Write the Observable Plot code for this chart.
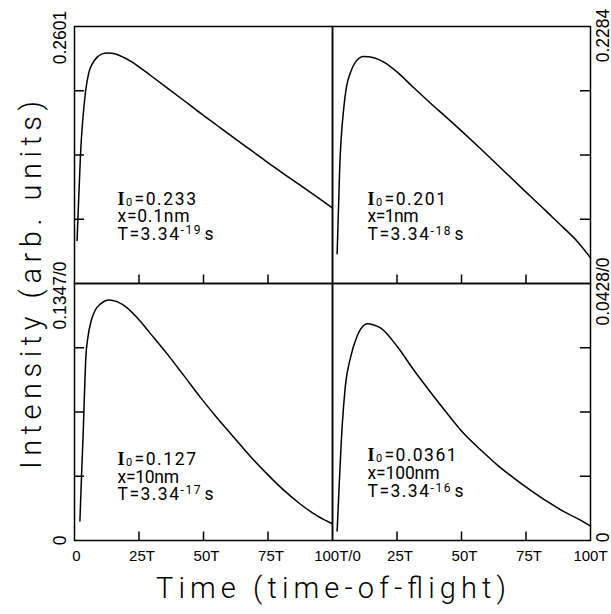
<!DOCTYPE html>
<html><head><meta charset="utf-8">
<script src="https://cdn.jsdelivr.net/npm/d3@7"></script>
<script src="https://cdn.jsdelivr.net/npm/@observablehq/plot@0.6"></script>
<style>
html,body{margin:0;padding:0;background:#fff;}
#chart{position:relative;width:611px;height:614px;overflow:hidden;background:#fff;}
#chart .panel{position:absolute;}
#chart svg{overflow:visible;display:block;}
</style></head><body><div id="chart"></div>
<script>
// ---------- data ----------
const yMax = [0.2601, 0.2284, 0.1347, 0.0428];           // TL, TR, BL, BR
const I0Symbol = ["I", "0"];
const I0Values = ["0.233", "0.201", "0.127", "0.0361"];
const xDistances = ["0.1nm", "1nm", "10nm", "100nm"];
const TMantissa = "3.34";
const TExponents = ["-19", "-18", "-17", "-16"];
const TUnit = "s";
const xTicks = [0, 25, 50, 75, 100];
const xTickLabelsLeft = ["0", "25T", "50T", "75T", "100T/0"];
const xTickLabelsRight = ["", "25T", "50T", "75T", "100T"];
const yTickFractions = [0.25, 0.5, 0.75];
const yLabelsLeft = ["0.2601", "0.1347/0", "0"];
const yLabelsRight = ["0.2284", "0.0428/0", "0"];
const xTitle = "Time (time-of-flight)";
const yTitle = "Intensity (arb. units)";

const timeTL = [1.0, 1.3, 2.3, 4.3, 5.6, 6.9, 8.8, 10.7, 12.7, 14.6, 16.5, 19.1, 21.7, 24.3, 29.5, 35.9, 42.4, 48.8, 55.3, 61.8, 68.2, 74.7, 81.1, 87.6, 94.1, 99.9];
const intensityTL = [0.0435, 0.0638, 0.1289, 0.1946, 0.2139, 0.2223, 0.2291, 0.2324, 0.2334, 0.2331, 0.2318, 0.2287, 0.2250, 0.2206, 0.2105, 0.1980, 0.1852, 0.1724, 0.1599, 0.1474, 0.1353, 0.1228, 0.1110, 0.0992, 0.0874, 0.0766];

const timeTR = [1.8, 2.8, 4.4, 5.4, 7.0, 8.9, 12.1, 16.0, 19.9, 25.1, 31.5, 38.0, 44.4, 50.9, 57.4, 63.8, 70.3, 76.7, 83.2, 89.7, 94.8, 100];
const intensityTR = [0.0264, 0.1034, 0.1567, 0.1745, 0.1878, 0.1967, 0.2017, 0.2006, 0.1967, 0.1878, 0.1739, 0.1602, 0.1472, 0.1336, 0.1197, 0.1058, 0.0915, 0.0776, 0.0634, 0.0492, 0.0376, 0.0228];

const timeBL = [2.1, 2.7, 3.4, 3.9, 4.4, 5.2, 6.5, 8.1, 10.1, 13.3, 16.5, 20.4, 24.3, 29.5, 35.9, 42.4, 48.8, 55.3, 61.8, 68.2, 74.7, 81.1, 87.6, 94.1, 99.9];
const intensityBL = [0.0102, 0.0330, 0.0575, 0.0785, 0.0960, 0.1065, 0.1153, 0.1209, 0.1240, 0.1261, 0.1252, 0.1219, 0.1167, 0.1083, 0.0978, 0.0864, 0.0750, 0.0642, 0.0540, 0.0440, 0.0348, 0.0264, 0.0190, 0.0129, 0.0088];

const timeBR = [1.8, 2.5, 3.8, 5.0, 7.0, 9.6, 12.1, 13.4, 16.0, 18.6, 25.1, 31.5, 38.0, 44.4, 50.9, 57.4, 63.8, 70.3, 76.7, 83.2, 89.7, 96.1, 100];
const intensityBR = [0.0016, 0.0083, 0.0194, 0.0258, 0.0305, 0.0341, 0.0358, 0.0361, 0.0359, 0.0354, 0.0323, 0.0284, 0.0247, 0.0212, 0.0178, 0.0151, 0.0126, 0.0104, 0.0084, 0.0065, 0.0048, 0.0034, 0.0024];

const series = [[timeTL, intensityTL], [timeTR, intensityTR], [timeBL, intensityBL], [timeBR, intensityBR]];

// ---------- layout ----------
const W = 258, H = 257;
const panelPos = [{left: 74, top: 26}, {left: 332, top: 26}, {left: 74, top: 283}, {left: 332, top: 283}];
const annX = [43, 35, 43, 35];
const annBase = [[178, 195.5, 213], [178, 195.5, 213.5], [181, 199, 216], [177, 195, 213.5]];

const SANS = "Liberation Sans, Arial, Helvetica, sans-serif";
const SERIF = "Liberation Serif, Times New Roman, serif";
const LIGHT = "Roboto, Lato, Open Sans, sans-serif";
const ADV = 0.6; // advance per character (em) used for annotation spacing

function annotation(i) {
  const ax = annX[i], [b1, b2, b3] = annBase[i];
  const base = {frameAnchor: "top-left", textAnchor: "start", lineAnchor: "bottom", fontFamily: LIGHT, fill: "black", text: d => d};
  return [
    Plot.text([I0Symbol[0]], {...base, fontFamily: SERIF, fontWeight: "bold", fontSize: 18, dx: ax, dy: b1}),
    Plot.text([I0Symbol[1]], {...base, fontSize: 11, dx: ax + 8.5, dy: b1 + 1.5}),
    Plot.text(["=" + I0Values[i]], {...base, fontSize: 17.5, dx: ax + 17, dy: b1}),
    Plot.text(["x=" + xDistances[i]], {...base, fontSize: 17.5, dx: ax, dy: b2}),
    Plot.text(["T=" + TMantissa], {...base, fontSize: 17.5, dx: ax, dy: b3}),
    Plot.text([TExponents[i]], {...base, fontSize: 12, dx: ax + 63, dy: b3 - 5.5}),
    Plot.text([TUnit], {...base, fontSize: 17.5, dx: ax + 87, dy: b3})
  ];
}

function yLabel(label, y, isLeft, dy) {
  return Plot.text([label], {
    x: isLeft ? 0 : 100, y, text: d => d, rotate: -90,
    textAnchor: "middle", lineAnchor: "bottom",
    dx: isLeft ? -8.7 : 18, dy,
    fontFamily: SANS, fontSize: 17.5, fill: "black"
  });
}

function xLabel(value, label, dx) {
  return Plot.text([label], {
    x: value, y: 0, text: d => d, textAnchor: "middle", lineAnchor: "bottom",
    dx, dy: 20, fontFamily: SANS, fontSize: 15, fill: "black"
  });
}

function panel(i) {
  const [time, intensity] = series[i];
  const data = time.map((t, k) => ({t, v: intensity[k]}));
  const ym = yMax[i];
  const isLeft = i % 2 === 0;
  const marks = [
    Plot.line(data, {x: "t", y: "v", curve: "monotone-x", stroke: "black", strokeWidth: 1.5}),
    Plot.tickX(xTicks.slice(1, -1), {x: d => d, insetTop: H - 8.5, stroke: "black", strokeWidth: 1.5}),
    Plot.tickY(yTickFractions.map(f => f * ym), {y: d => d, ...(isLeft ? {insetRight: W - 10} : {insetLeft: W - 10}), stroke: "black", strokeWidth: 1.5}),
    Plot.frame({stroke: "black", strokeWidth: 1.5}),
    ...annotation(i)
  ];
  if (i === 0) marks.push(yLabel(yLabelsLeft[0], ym, true, 11));
  if (i === 1) marks.push(yLabel(yLabelsRight[0], ym, false, 9));
  if (i === 2) {
    marks.push(yLabel(yLabelsLeft[1], ym, true, 12));
    marks.push(yLabel(yLabelsLeft[2], 0, true, 0));
    xTicks.forEach((v, k) => marks.push(xLabel(v, xTickLabelsLeft[k], k === 0 ? 2 : k === 4 ? 5 : 3)));
  }
  if (i === 3) {
    marks.push(yLabel(yLabelsRight[1], ym, false, 8));
    marks.push(yLabel(yLabelsRight[2], 0, false, -3));
    xTicks.forEach((v, k) => { if (xTickLabelsRight[k]) marks.push(xLabel(v, xTickLabelsRight[k], k === 4 ? 0 : 3)); });
  }
  const svg = Plot.plot({
    width: W, height: H, margin: 0,
    x: {domain: [0, 100], axis: null},
    y: {domain: [0, ym], axis: null},
    style: {overflow: "visible", background: "transparent", fontFamily: SANS},
    marks
  });
  // spread the annotation text to the wide spacing of the original plotter font
  d3.select(svg).selectAll("g[aria-label='text']").each(function () {
    if (this.getAttribute("font-family") !== LIGHT) return;
    const fs = +this.getAttribute("font-size");
    d3.select(this).selectAll("text").each(function () {
      const s = this.textContent;
      if (s.length > 1) {
        this.setAttribute("textLength", (s.length * ADV * fs - 1.5).toFixed(1));
        this.setAttribute("lengthAdjust", "spacing");
      }
    });
  });
  return svg;
}

const chart = document.getElementById("chart");
for (let i = 0; i < 4; i++) {
  const div = document.createElement("div");
  div.className = "panel";
  div.style.left = panelPos[i].left + "px";
  div.style.top = panelPos[i].top + "px";
  div.appendChild(panel(i));
  chart.appendChild(div);
}

// axis titles
const overlay = d3.select(chart).append("svg")
  .attr("width", 611).attr("height", 614)
  .style("position", "absolute").style("left", "0px").style("top", "0px")
  .style("pointer-events", "none");
overlay.append("text")
  .attr("x", 331).attr("y", 598)
  .attr("text-anchor", "middle")
  .attr("textLength", 350).attr("lengthAdjust", "spacing")
  .attr("font-family", LIGHT).attr("font-weight", 300).attr("font-size", 29).attr("fill", "black")
  .text(xTitle);
overlay.append("text")
  .attr("transform", "translate(41,285) rotate(-90)")
  .attr("text-anchor", "middle")
  .attr("textLength", 368).attr("lengthAdjust", "spacing")
  .attr("font-family", LIGHT).attr("font-weight", 300).attr("font-size", 29).attr("fill", "black")
  .text(yTitle);
</script></body></html>
